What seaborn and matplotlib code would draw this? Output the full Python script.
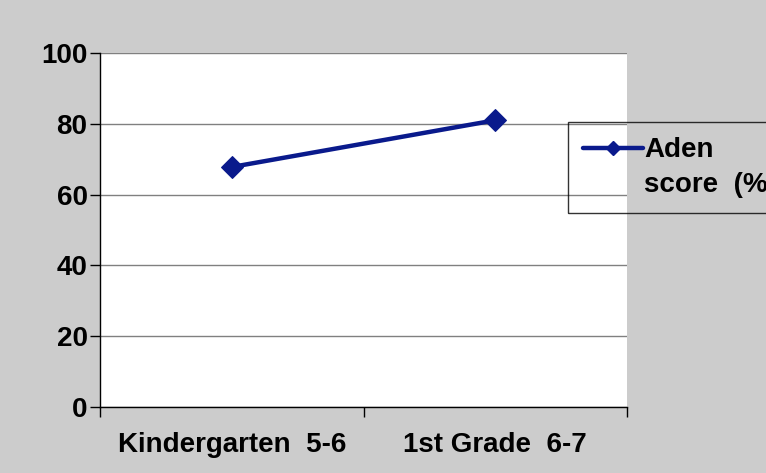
import pandas as pd
import matplotlib
matplotlib.use('Agg')
import matplotlib.pyplot as plt
from matplotlib.lines import Line2D
import seaborn as sns

# data
grades = ['Kindergarten  5-6', '1st Grade  6-7']
scores = [67.8, 81.0]
legend_lines = ['Aden', 'score  (%)']
y_ticks = [0, 20, 40, 60, 80, 100]

df = pd.DataFrame({'grade': grades, 'score': scores})

sns.set_style('white')
plt.rcParams['font.family'] = ['Liberation Sans', 'DejaVu Sans']
plt.rcParams['font.weight'] = 'bold'
plt.rcParams['text.color'] = 'black'
plt.rcParams['xtick.color'] = 'black'
plt.rcParams['ytick.color'] = 'black'

bg = '#CCCCCC'
navy = '#0A1A8C'
fs = 20

fig = plt.figure(figsize=(7.66, 4.73), dpi=100, facecolor=bg)
ax = fig.add_axes([100 / 766, 1 - 407 / 473, 527 / 766, 354 / 473])
ax.set_facecolor('white')

sns.lineplot(data=df, x='grade', y='score', ax=ax, color=navy, linewidth=3.2,
             marker='D', markersize=11, markeredgecolor=navy, sort=False,
             legend=False)

ax.set_xlim(-0.5, 1.5)
ax.set_ylim(0, 100)
ax.set_yticks(y_ticks)
ax.yaxis.grid(True, color='#808080', linewidth=1)
ax.set_axisbelow(True)

# category labels centred, ticks at category boundaries
ax.set_xticks([0, 1])
ax.set_xticklabels(grades, fontsize=fs, fontweight='bold')
ax.set_xticks([-0.5, 0.5, 1.5], minor=True)
ax.tick_params(axis='x', which='major', bottom=True, length=0, pad=18)
ax.tick_params(axis='x', which='minor', bottom=True, length=7, width=1,
               color='black', direction='out')
ax.tick_params(axis='y', left=True, length=7, width=1, color='black',
               direction='out', labelsize=fs, pad=2)
for lab in ax.get_yticklabels():
    lab.set_fontweight('bold')

ax.set_xlabel('')
ax.set_ylabel('')

for s in ['top', 'right']:
    ax.spines[s].set_visible(False)
for s in ['left', 'bottom']:
    ax.spines[s].set_color('black')
    ax.spines[s].set_linewidth(1)

# legend: handle sits next to the first line of the two-line label
series_handle = Line2D([], [], color=navy, linewidth=3.2, marker='D',
                       markersize=7.5, markeredgecolor=navy)
blank = Line2D([], [], linestyle='none')
leg = ax.legend(handles=[series_handle, blank], labels=legend_lines,
                loc='upper left', bbox_to_anchor=(568 / 766, 1 - 122 / 473),
                bbox_transform=fig.transFigure, frameon=True, fancybox=False,
                facecolor='none', edgecolor='black',
                fontsize=fs, handlelength=2.15, labelspacing=0.3,
                borderpad=0.55, handletextpad=0.05, borderaxespad=0)
for t in leg.get_texts():
    t.set_fontweight('bold')
leg.get_frame().set_linewidth(1)

fig.savefig('out.png', dpi=100, facecolor=bg)
